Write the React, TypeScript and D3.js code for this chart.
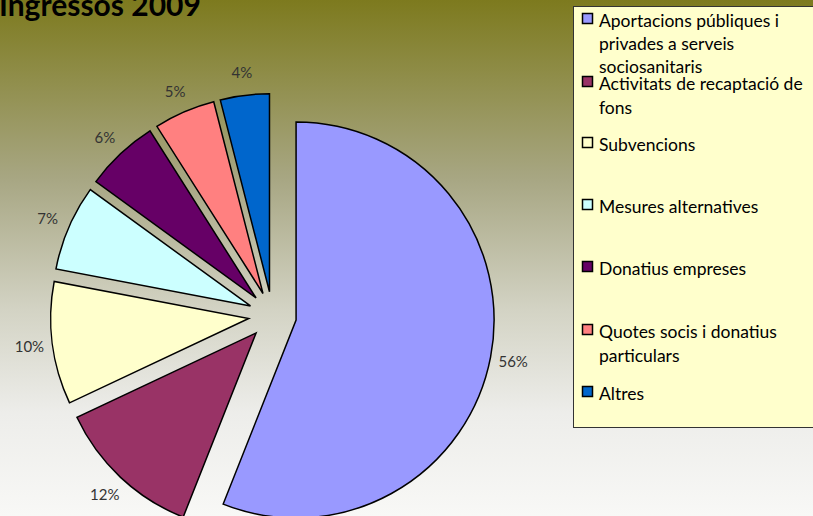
import React, { useEffect, useRef } from "react";
import * as d3 from "d3";

const categories = [
  "Aportacions públiques i privades a serveis sociosanitaris",
  "Activitats de recaptació de fons",
  "Subvencions",
  "Mesures alternatives",
  "Donatius empreses",
  "Quotes socis i donatius particulars",
  "Altres",
];
const values = [56, 12, 10, 7, 6, 5, 4];
const colors = ["#9999ff", "#993366", "#ffffcc", "#ccffff", "#660066", "#ff8080", "#0066cc"];
const legendLines = [
  ["Aportacions públiques i", "privades a serveis", "sociosanitaris"],
  ["Activitats de recaptació de", "fons"],
  ["Subvencions"],
  ["Mesures alternatives"],
  ["Donatius empreses"],
  ["Quotes socis i donatius", "particulars"],
  ["Altres"],
];
// baseline of first line of each legend entry
const legendBaselines = [27, 90, 151, 213, 275, 338, 400];
const lineSteps = [23, 24, 0, 0, 0, 24, 0];

const App: React.FC = () => {
  const svgRef = useRef<SVGSVGElement>(null);

  useEffect(() => {
    const width = 813;
    const height = 516;
    const svg = d3.select(svgRef.current);
    svg.selectAll("*").remove();

    const defs = svg.append("defs");
    const grad = defs
      .append("linearGradient")
      .attr("id", "bg")
      .attr("x1", 0)
      .attr("y1", 0)
      .attr("x2", 0)
      .attr("y2", 1);
    grad.append("stop").attr("offset", "0%").attr("stop-color", "#7d7a1e");
    grad.append("stop").attr("offset", "35%").attr("stop-color", "#a8a784");
    grad.append("stop").attr("offset", "60%").attr("stop-color", "#d3d3c4");
    grad.append("stop").attr("offset", "80%").attr("stop-color", "#ededea");
    grad.append("stop").attr("offset", "100%").attr("stop-color", "#f8f8f6");

    svg.append("rect").attr("width", width).attr("height", height).attr("fill", "url(#bg)");

    // title (cut at the top edge, as in the original)
    svg
      .append("text")
      .attr("x", -1)
      .attr("y", 16)
      .attr("font-family", "Lato, sans-serif")
      .attr("font-weight", "bold")
      .attr("font-size", 30)
      .attr("fill", "#000")
      .text("Ingressos 2009");

    // pie
    const cx = 272.5;
    const cy = 315.5;
    const radius = 198;
    const explode = 24;
    const labelR = 221;

    const pie = d3
      .pie<number>()
      .sort(null)
      .value((d) => d);
    const arcs = pie(values);
    const arc = d3.arc<d3.PieArcDatum<number>>().innerRadius(0).outerRadius(radius);

    const g = svg.append("g").attr("transform", `translate(${cx},${cy})`);

    arcs.forEach((a, i) => {
      const mid = (a.startAngle + a.endAngle) / 2;
      const dx = Math.sin(mid) * explode;
      const dy = -Math.cos(mid) * explode;
      const sg = g.append("g").attr("transform", `translate(${dx},${dy})`);
      sg.append("path")
        .attr("d", arc(a))
        .attr("fill", colors[i])
        .attr("stroke", "#000")
        .attr("stroke-width", 1.5)
        .attr("stroke-linejoin", "miter");
      sg.append("text")
        .attr("x", Math.sin(mid) * labelR)
        .attr("y", -Math.cos(mid) * labelR)
        .attr("text-anchor", "middle")
        .attr("dominant-baseline", "central")
        .attr("font-family", "Lato, sans-serif")
        .attr("font-size", 15)
        .attr("fill", "#333")
        .text(`${values[i]}%`);
    });

    // legend
    const lg = svg.append("g");
    lg.append("rect")
      .attr("x", 573.5)
      .attr("y", 6.5)
      .attr("width", 260)
      .attr("height", 421)
      .attr("fill", "#ffffcc")
      .attr("stroke", "#333")
      .attr("stroke-width", 1);

    categories.forEach((c, i) => {
      const base = legendBaselines[i];
      lg.append("rect")
        .attr("x", 582.5)
        .attr("y", base - 13.5)
        .attr("width", 10)
        .attr("height", 10)
        .attr("fill", colors[i])
        .attr("stroke", "#000")
        .attr("stroke-width", 1.5);
      legendLines[i].forEach((line, j) => {
        lg.append("text")
          .attr("x", 599)
          .attr("y", base + j * lineSteps[i])
          .attr("font-family", "Lato, sans-serif")
          .attr("font-size", 17.5)
          .attr("fill", "#000")
          .text(line);
      });
    });
  }, []);

  return (
    <div style={{ position: "absolute", left: 0, top: 0 }}>
      <svg ref={svgRef} width={813} height={516} style={{ display: "block" }}></svg>
    </div>
  );
};

export default App;
